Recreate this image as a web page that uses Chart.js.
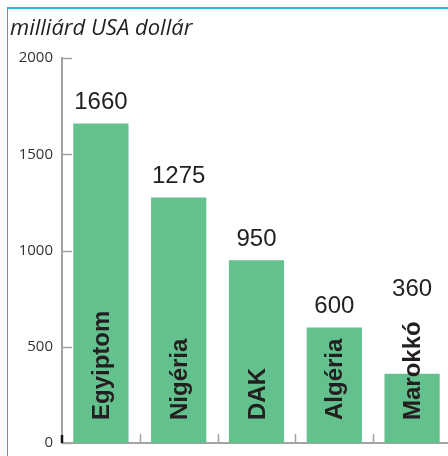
<!DOCTYPE html>
<html>
<head>
<meta charset="utf-8">
<script src="https://cdn.jsdelivr.net/npm/chart.js@4/dist/chart.umd.min.js"></script>
<style>
html, body { margin: 0; padding: 0; background: #fff; overflow: hidden; }
#wrap { position: relative; width: 448px; height: 456px; overflow: hidden; }
#frame { position: absolute; left: 7px; top: 7px; width: 460px; height: 470px;
         border-top: 2px solid #2eb0e6; border-left: 1px solid #1ea7e1; }
canvas { position: absolute; left: 0; top: 0; }
</style>
</head>
<body>
<div id="wrap">
  <div id="frame"></div>
  <canvas id="chart" width="452" height="456"></canvas>
</div>
<script>
const categories = ['Egyiptom', 'Nigéria', 'DAK', 'Algéria', 'Marokkó'];
const values = [1660, 1275, 950, 600, 360];
const yTicks = [0, 500, 1000, 1500, 2000];
const unitLabel = 'milliárd USA dollár';

const axisGrey = '#a3a3a3';
const textDark = '#231f20';
const barGreen = '#63c18d';

const labelsPlugin = {
    id: 'labels',
    afterDraw(chart) {
        const { ctx, scales: { x, y } } = chart;
        const bars = chart.getDatasetMeta(0).data;
        const base = y.getPixelForValue(0);
        const left = x.left;

        ctx.save();
        // inward ticks on the y axis
        ctx.strokeStyle = axisGrey;
        ctx.lineWidth = 1.5;
        yTicks.forEach((v) => {
            const py = Math.round(y.getPixelForValue(v)) + 0.5;
            ctx.beginPath();
            ctx.moveTo(left, py);
            ctx.lineTo(left + 10, py);
            ctx.stroke();
        });
        // small ticks between categories
        for (let i = 0; i < categories.length - 1; i++) {
            const px = Math.round((x.getPixelForValue(i) + x.getPixelForValue(i + 1)) / 2) + 0.5;
            ctx.beginPath();
            ctx.moveTo(px, base);
            ctx.lineTo(px, base - 9);
            ctx.stroke();
        }
        // dark mark at the origin
        ctx.strokeStyle = '#111';
        ctx.lineWidth = 2.5;
        ctx.beginPath();
        ctx.moveTo(left, base);
        ctx.lineTo(left, base - 8);
        ctx.stroke();

        // unit title
        ctx.fillStyle = textDark;
        ctx.font = 'italic 22px "Open Sans", sans-serif';
        ctx.textAlign = 'left';
        ctx.textBaseline = 'alphabetic';
        ctx.fillText(unitLabel, 10, 35);

        bars.forEach((bar, i) => {
            // category name inside the bar, rotated
            ctx.font = 'bold 24px "Liberation Sans", Arial, sans-serif';
            const w = ctx.measureText(categories[i]).width;
            const textTop = 420 - w;
            ctx.save();
            ctx.translate(bar.x + 8, 420);
            ctx.rotate(-Math.PI / 2);
            ctx.textAlign = 'left';
            ctx.textBaseline = 'alphabetic';
            ctx.fillText(categories[i], 0, 0);
            ctx.restore();

            // value above the bar
            ctx.font = '24px "Liberation Sans", Arial, sans-serif';
            ctx.textAlign = 'center';
            ctx.textBaseline = 'middle';
            ctx.fillText(String(values[i]), bar.x, Math.min(bar.y - 21, textTop - 32));
        });
        ctx.restore();
    },
};

new Chart(document.getElementById('chart'), {
    type: 'bar',
    data: {
        labels: categories,
        datasets: [{
            data: values,
            backgroundColor: barGreen,
            borderWidth: 0,
            categoryPercentage: 1,
            barPercentage: 0.71,
        }],
    },
    options: {
        responsive: false,
        maintainAspectRatio: false,
        devicePixelRatio: 1,
        animation: false,
        layout: { padding: { top: 58, right: 1, left: 0, bottom: 0 } },
        plugins: { legend: { display: false }, tooltip: { enabled: false } },
        scales: {
            x: {
                grid: { display: false, drawTicks: false },
                border: { display: true, color: axisGrey, width: 2 },
                ticks: { display: false },
                afterFit: (s) => { s.height = 13; s.paddingLeft = 0; s.paddingRight = 0; },
            },
            y: {
                min: 0,
                max: 2000,
                afterBuildTicks: (s) => { s.ticks = yTicks.map((v) => ({ value: v })); },
                grid: { display: false, drawTicks: false },
                border: { display: true, color: axisGrey, width: 2 },
                ticks: {
                    padding: 9,
                    color: '#333',
                    font: { family: '"Open Sans", sans-serif', size: 15 },
                    callback: (v) => String(v),
                },
                afterFit: (s) => { s.width = 62; s.paddingTop = 0; s.paddingBottom = 0; },
            },
        },
    },
    plugins: [labelsPlugin],
});
</script>
</body>
</html>
